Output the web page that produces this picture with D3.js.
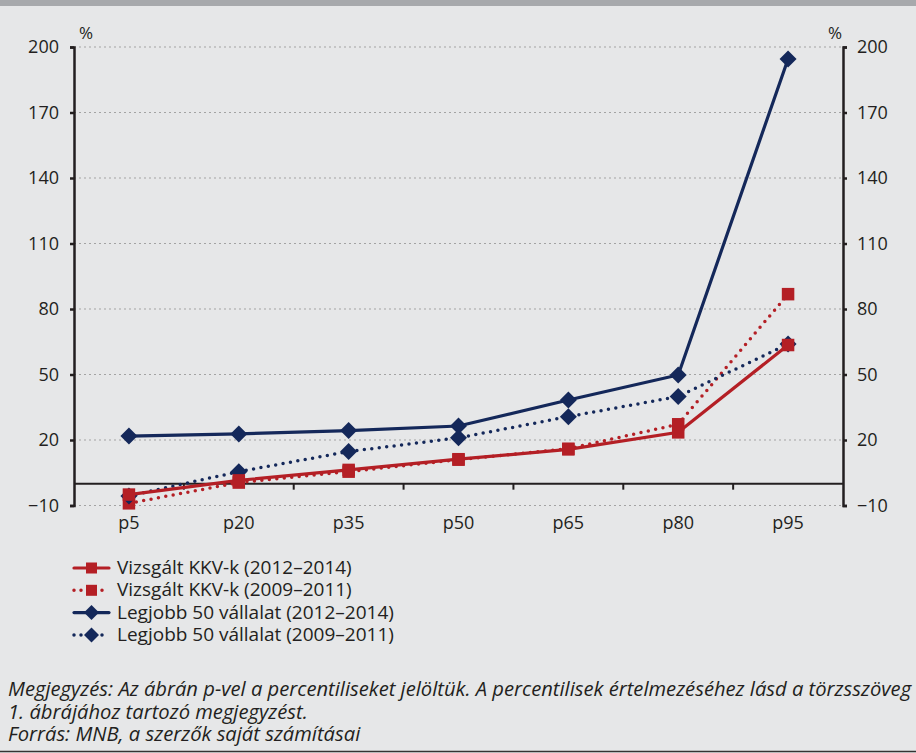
<!DOCTYPE html>
<html lang="hu">
<head>
<meta charset="utf-8">
<title>Percentilisek</title>
<script src="https://d3js.org/d3.v7.min.js"></script>
<style>
    body{
        margin: 0;
        background-color: #e6e7e8;
    }
    svg{
        display: block;
        font-family: "Open Sans", sans-serif;
    }
</style>
</head>
<body>
<div id="chart"></div>
<script>

// categories (percentiles)
var categories = ["p5", "p20", "p35", "p50", "p65", "p80", "p95"];

// series values, %
var kkv1214 = [-5, 1.5, 6.3, 11.2, 15.7, 23.5, 63.5];
var kkv0911 = [-9, 0.5, 5.5, 11, 16, 27.2, 86.8];
var top1214 = [21.8, 22.8, 24.3, 26.4, 38.3, 49.8, 194.5];
var top0911 = [-5.6, 5.5, 14.7, 21, 30.7, 39.9, 64];

var yTicks = [-10, 20, 50, 80, 110, 140, 170, 200];

var seriesNames = [
    "Vizsgált KKV-k (2012–2014)",
    "Vizsgált KKV-k (2009–2011)",
    "Legjobb 50 vállalat (2012–2014)",
    "Legjobb 50 vállalat (2009–2011)"
];

var footLines = [
    "Megjegyzés: Az ábrán p-vel a percentiliseket jelöltük. A percentilisek értelmezéséhez lásd a törzsszöveg",
    "1. ábrájához tartozó megjegyzést.",
    "Forrás: MNB, a szerzők saját számításai"
];

var RED = "#b41f25", NAVY = "#14285a", INK = "#231f20";

var series = [
    {name: seriesNames[0], values: kkv1214, color: RED,  dotted: false, marker: "square"},
    {name: seriesNames[1], values: kkv0911, color: RED,  dotted: true,  marker: "square"},
    {name: seriesNames[2], values: top1214, color: NAVY, dotted: false, marker: "diamond"},
    {name: seriesNames[3], values: top0911, color: NAVY, dotted: true,  marker: "diamond"}
];

var width = 916, height = 753;
var mLeft = 74, mRight = 843, mTop = 47, mBottom = 505.5;

var svg = d3.select("#chart").append("svg")
    .attr("width", width)
    .attr("height", height);

// background + top band + bottom rule
svg.append("rect").attr("width", width).attr("height", height).attr("fill", "#e6e7e8");
svg.append("rect").attr("width", width).attr("height", 6).attr("fill", "#a7a9ac");
svg.append("line").attr("x1", 0).attr("x2", width).attr("y1", 751.5).attr("y2", 751.5)
    .attr("stroke", "#333").attr("stroke-width", 1.5);

var x = d3.scaleBand().domain(categories).range([mLeft, mRight]);
var y = d3.scaleLinear().domain([-10, 200]).range([mBottom, mTop]);

// gridlines
svg.append("g").selectAll("line").data(yTicks).enter().append("line")
    .attr("x1", mLeft).attr("x2", mRight)
    .attr("y1", d => y(d)).attr("y2", d => y(d))
    .attr("stroke", "#a3a3a3").attr("stroke-width", 1)
    .attr("stroke-dasharray", "2,3");

// y axes (left and right)
var fmt = d => d < 0 ? "\u2212" + Math.abs(d) : d;
var axisL = svg.append("g").attr("transform", "translate(" + mLeft + ",0)")
    .call(d3.axisLeft(y).tickValues(yTicks).tickSize(4).tickPadding(11).tickFormat(fmt));
var axisR = svg.append("g").attr("transform", "translate(" + mRight + ",0)")
    .call(d3.axisRight(y).tickValues(yTicks).tickSize(4).tickPadding(10).tickFormat(fmt));
[axisL, axisR].forEach(function(a){
    a.select(".domain").attr("stroke", INK).attr("stroke-width", 2.5);
    a.selectAll(".tick line").attr("stroke", INK).attr("stroke-width", 2.5);
    a.selectAll("text").attr("font-size", 18).attr("fill", INK)
        .attr("font-family", "'Open Sans', sans-serif");
});

svg.append("text").attr("x", 79).attr("y", 39).attr("font-size", 17).attr("fill", INK).text("%");
svg.append("text").attr("x", 828).attr("y", 39).attr("font-size", 17).attr("fill", INK).text("%");

// category labels
var xAxis = svg.append("g").attr("transform", "translate(0," + y(0) + ")")
    .call(d3.axisBottom(x).tickSize(0).tickPadding(33));
xAxis.select(".domain").remove();
xAxis.selectAll("text").attr("font-size", 18).attr("fill", INK)
    .attr("font-family", "'Open Sans', sans-serif");

// zero line with ticks between categories
svg.append("line").attr("x1", mLeft).attr("x2", mRight).attr("y1", y(0)).attr("y2", y(0))
    .attr("stroke", INK).attr("stroke-width", 2);
svg.append("g").selectAll("line").data(categories.slice(1)).enter().append("line")
    .attr("x1", d => x(d)).attr("x2", d => x(d))
    .attr("y1", y(0)).attr("y2", y(0) + 6)
    .attr("stroke", INK).attr("stroke-width", 2);

// lines
var line = d3.line()
    .x((d, i) => x(categories[i]) + x.bandwidth() / 2)
    .y(d => y(d));

function drawMarker(g, type, cx, cy, color, s){
    if (type === "square"){
        g.append("rect").attr("x", cx - s / 2).attr("y", cy - s / 2)
            .attr("width", s).attr("height", s).attr("fill", color);
    } else {
        var r = s * 0.68;
        g.append("path")
            .attr("d", "M" + cx + "," + (cy - r) + "L" + (cx + r) + "," + cy + "L" + cx + "," + (cy + r) + "L" + (cx - r) + "," + cy + "Z")
            .attr("fill", color);
    }
}

var order = [1, 3, 0, 2];
order.forEach(function(k){
    var s = series[k];
    var g = svg.append("g");
    g.append("path").datum(s.values)
        .attr("d", line)
        .attr("fill", "none")
        .attr("stroke", s.color)
        .attr("stroke-width", s.dotted ? 3.5 : 3.2)
        .attr("stroke-linecap", "round")
        .attr("stroke-dasharray", s.dotted ? "0,7.5" : null);
    s.values.forEach(function(v, i){
        drawMarker(g, s.marker, x(categories[i]) + x.bandwidth() / 2, y(v), s.color, 12.5);
    });
});

// legend
var legend = svg.append("g");
series.forEach(function(s, i){
    var ly = 568 + i * 22.3;
    legend.append("line").attr("x1", 74).attr("x2", 109).attr("y1", ly).attr("y2", ly)
        .attr("stroke", s.color).attr("stroke-width", s.dotted ? 3.5 : 3.2)
        .attr("stroke-linecap", "round")
        .attr("stroke-dasharray", s.dotted ? "0,7" : null);
    drawMarker(legend, s.marker, 91.5, ly, s.color, 11);
    legend.append("text").attr("x", 117).attr("y", ly + 6)
        .attr("font-size", 19).attr("fill", INK).text(s.name);
});

// footnote
svg.append("g").selectAll("text").data(footLines).enter().append("text")
    .attr("x", 8).attr("y", (d, i) => 696 + i * 22.5)
    .attr("font-size", 20.2).attr("font-style", "italic").attr("fill", INK)
    .text(d => d);

</script>
</body>
</html>
